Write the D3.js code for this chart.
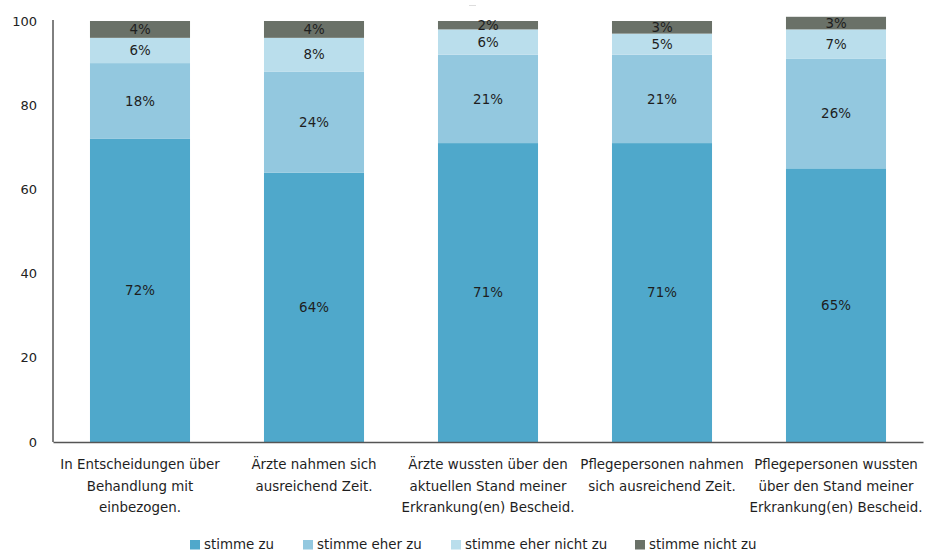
<!DOCTYPE html>
<html>
<head>
<meta charset="utf-8">
<script src="https://cdn.jsdelivr.net/npm/d3@7"></script>
<style>
  html, body { margin: 0; padding: 0; background: #fff; }
  svg { display: block; font-family: "DejaVu Sans", sans-serif; }
</style>
</head>
<body>
<svg id="chart" width="927" height="551"></svg>
<script>
// Survey statements (x categories), each line of the wrapped label as an entry
const categories = [
  ["In Entscheidungen über", "Behandlung mit", "einbezogen."],
  ["Ärzte nahmen sich", "ausreichend Zeit."],
  ["Ärzte wussten über den", "aktuellen Stand meiner", "Erkrankung(en) Bescheid."],
  ["Pflegepersonen nahmen", "sich ausreichend Zeit."],
  ["Pflegepersonen wussten", "über den Stand meiner", "Erkrankung(en) Bescheid."]
];
const seriesNames = ["stimme zu", "stimme eher zu", "stimme eher nicht zu", "stimme nicht zu"];
const stimmeZu = [72, 64, 71, 71, 65];
const stimmeEherZu = [18, 24, 21, 21, 26];
const stimmeEherNichtZu = [6, 8, 6, 5, 7];
const stimmeNichtZu = [4, 4, 2, 3, 3];
const yTicks = [0, 20, 40, 60, 80, 100];
const colors = ["#4fa8cb", "#93c8df", "#badeec", "#6a7168"];

const rows = categories.map((c, i) => ({
  key: i,
  "stimme zu": stimmeZu[i],
  "stimme eher zu": stimmeEherZu[i],
  "stimme eher nicht zu": stimmeEherNichtZu[i],
  "stimme nicht zu": stimmeNichtZu[i]
}));

const svg = d3.select("#chart");
const plotLeft = 53, plotRight = 923, plotTop = 21, plotBottom = 442;
const fontSize = 13.4;

const x = d3.scaleBand()
  .domain(rows.map(d => d.key))
  .range([plotLeft, plotRight])
  .paddingInner(0.425)
  .paddingOuter(0.2125);

const y = d3.scaleLinear().domain([0, 100]).range([plotBottom, plotTop]);

const color = d3.scaleOrdinal().domain(seriesNames).range(colors);

const stacked = d3.stack().keys(seriesNames)(rows);

// stacked segments
const layer = svg.append("g").selectAll("g")
  .data(stacked)
  .join("g")
  .attr("fill", d => color(d.key));

layer.selectAll("rect")
  .data(d => d)
  .join("rect")
  .attr("x", d => x(d.data.key))
  .attr("width", x.bandwidth())
  .attr("y", d => y(d[1]))
  .attr("height", d => y(d[0]) - y(d[1]));

// value labels in segment centres
const labels = svg.append("g")
  .attr("font-size", fontSize)
  .attr("fill", "#1e1e1e")
  .attr("text-anchor", "middle");

stacked.forEach(s => {
  labels.selectAll(null)
    .data(s)
    .join("text")
    .attr("x", d => x(d.data.key) + x.bandwidth() / 2)
    .attr("y", d => (y(d[0]) + y(d[1])) / 2)
    .attr("dy", "0.35em")
    .text(d => (d[1] - d[0]) + "%");
});

// y axis
const yAxis = svg.append("g")
  .attr("transform", `translate(${plotLeft},0)`)
  .call(d3.axisLeft(y).tickValues(yTicks).tickSize(0).tickPadding(16));
yAxis.select(".domain").attr("stroke", "#000").attr("d", `M0,${plotTop - 1}V${plotBottom}`);
yAxis.selectAll("text")
  .attr("font-size", 13)
  .attr("fill", "#222")
  .style("font-family", "\"DejaVu Sans\", sans-serif");

// x axis
const xAxis = svg.append("g")
  .attr("transform", `translate(0,${plotBottom})`)
  .call(d3.axisBottom(x).tickSize(0).tickFormat(""));
xAxis.select(".domain").attr("stroke", "#555").attr("stroke-width", 1.5);

const xl = svg.append("g")
  .attr("font-size", fontSize)
  .attr("fill", "#1e1e1e")
  .attr("text-anchor", "middle");
rows.forEach((r, i) => {
  const cx = x(r.key) + x.bandwidth() / 2;
  const t = xl.append("text").attr("x", cx).attr("y", 469);
  categories[i].forEach((line, j) => {
    t.append("tspan")
      .attr("x", cx)
      .attr("dy", j === 0 ? 0 : 21.7)
      .text(line);
  });
});

// faint mark above the middle bar
svg.append("line")
  .attr("x1", 469).attr("x2", 476).attr("y1", 5.5).attr("y2", 5.5)
  .attr("stroke", "#ddd").attr("stroke-width", 1);

// legend
const legendX = [190, 303, 451, 635];
const legend = svg.append("g").attr("font-size", fontSize).attr("fill", "#1e1e1e");
seriesNames.forEach((name, i) => {
  const g = legend.append("g").attr("transform", `translate(${legendX[i]},540)`);
  g.append("rect").attr("width", 10).attr("height", 9.5).attr("fill", color(name));
  g.append("text").attr("x", 14).attr("y", 4).attr("dy", "0.35em").text(name);
});
</script>
</body>
</html>
